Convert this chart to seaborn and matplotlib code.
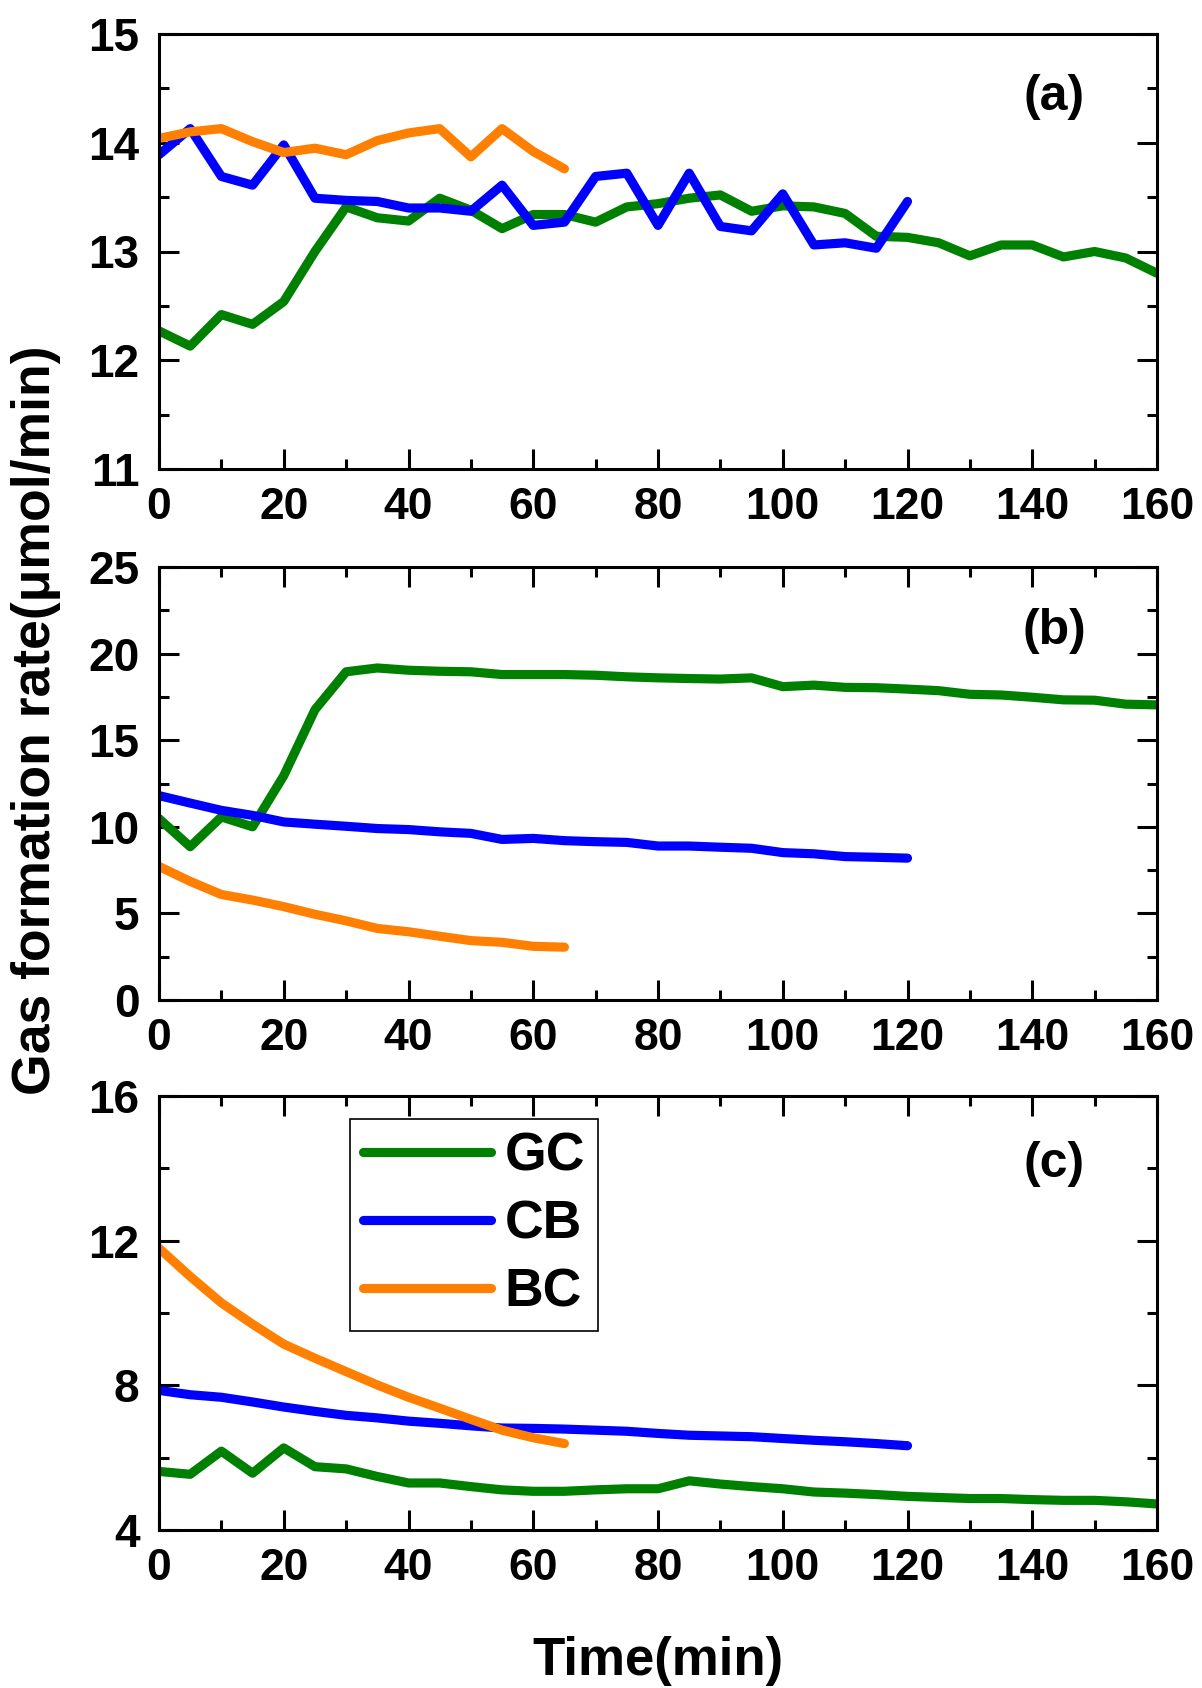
import numpy as np
import pandas as pd
import matplotlib
matplotlib.use("Agg")
import matplotlib.pyplot as plt
from matplotlib.ticker import MultipleLocator
import seaborn as sns

# ---------------- data ----------------
t_gc = list(range(0, 165, 5))
t_cb = list(range(0, 125, 5))
t_bc = list(range(0, 70, 5))

gc_a = [12.27, 12.13, 12.42, 12.33, 12.54, 13.0, 13.41, 13.31, 13.28, 13.49,
        13.38, 13.21, 13.34, 13.34, 13.27, 13.41, 13.44, 13.49, 13.52, 13.37,
        13.42, 13.41, 13.35, 13.14, 13.13, 13.08, 12.96, 13.06, 13.06, 12.95,
        13.0, 12.94, 12.80]
cb_a = [13.89, 14.13, 13.69, 13.61, 13.98, 13.49, 13.47, 13.46, 13.40, 13.40,
        13.37, 13.61, 13.24, 13.27, 13.69, 13.72, 13.24, 13.72, 13.23, 13.19,
        13.53, 13.06, 13.08, 13.03, 13.46]
bc_a = [14.04, 14.10, 14.13, 14.01, 13.91, 13.95, 13.89, 14.02, 14.09, 14.13,
        13.87, 14.13, 13.92, 13.76]

gc_b = [10.47, 8.85, 10.57, 10.0, 12.95, 16.76, 18.95, 19.17, 19.04, 18.98,
        18.95, 18.79, 18.79, 18.79, 18.75, 18.66, 18.60, 18.56, 18.53, 18.60,
        18.09, 18.18, 18.05, 18.03, 17.95, 17.86, 17.65, 17.61, 17.48, 17.33,
        17.31, 17.08, 17.04]
cb_b = [11.80, 11.37, 10.95, 10.66, 10.28, 10.15, 10.03, 9.90, 9.84, 9.71,
        9.62, 9.27, 9.33, 9.20, 9.14, 9.10, 8.89, 8.89, 8.82, 8.76,
        8.51, 8.44, 8.28, 8.24, 8.19]
bc_b = [7.71, 6.85, 6.09, 5.77, 5.39, 4.95, 4.57, 4.13, 3.94, 3.68,
        3.43, 3.33, 3.10, 3.05]

gc_c = [5.62, 5.54, 6.18, 5.57, 6.27, 5.75, 5.69, 5.48, 5.30, 5.30,
        5.20, 5.11, 5.07, 5.07, 5.11, 5.14, 5.14, 5.36, 5.27, 5.20,
        5.14, 5.05, 5.02, 4.98, 4.93, 4.90, 4.87, 4.87, 4.84, 4.82,
        4.82, 4.78, 4.72]
cb_c = [7.86, 7.74, 7.67, 7.54, 7.40, 7.28, 7.17, 7.10, 7.01, 6.95,
        6.88, 6.82, 6.81, 6.79, 6.76, 6.73, 6.67, 6.62, 6.60, 6.58,
        6.53, 6.48, 6.44, 6.39, 6.33]
bc_c = [11.79, 11.01, 10.28, 9.69, 9.14, 8.75, 8.38, 8.01, 7.67, 7.37,
        7.06, 6.76, 6.55, 6.39]

series_names = ["GC", "CB", "BC"]
colors = {"GC": "#008000", "CB": "#0000FF", "BC": "#FF8000"}
panel_labels = ["(a)", "(b)", "(c)"]
ylims = [(11, 15), (0, 25), (4, 16)]
ymajor = [1, 5, 4]
yminor = [0.5, 2.5, 2]
panels = [
    {"GC": gc_a, "CB": cb_a, "BC": bc_a},
    {"GC": gc_b, "CB": cb_b, "BC": bc_b},
    {"GC": gc_c, "CB": cb_c, "BC": bc_c},
]
times = {"GC": t_gc, "CB": t_cb, "BC": t_bc}

# ---------------- style ----------------
sns.set_theme(style="white")
plt.rcParams["font.family"] = ["Liberation Sans", "DejaVu Sans"]
plt.rcParams["font.weight"] = "bold"
for key in ["text.color", "axes.labelcolor", "xtick.color", "ytick.color",
            "axes.edgecolor"]:
    plt.rcParams[key] = "black"

LW = 6.6

fig = plt.figure(figsize=(12.02, 16.88), dpi=100)
left, right = 159 / 1202, 1157 / 1202
tops = [34, 567, 1096]
bottoms = [469, 1000, 1530]
H = 1688.0

axes = []
for i in range(3):
    b = 1 - bottoms[i] / H
    h = (bottoms[i] - tops[i]) / H
    ax = fig.add_axes([left, b, right - left, h])
    axes.append(ax)

label_y = [0.855, 0.852, 0.843]
for i, ax in enumerate(axes):
    for name in series_names:
        df = pd.DataFrame({"t": times[name], "v": panels[i][name]})
        sns.lineplot(data=df, x="t", y="v", ax=ax, color=colors[name],
                     linewidth=LW, label=name, solid_capstyle="round",
                     solid_joinstyle="round", legend=False)
    ax.set_xlim(0, 160)
    ax.set_ylim(*ylims[i])
    ax.xaxis.set_major_locator(MultipleLocator(20))
    ax.xaxis.set_minor_locator(MultipleLocator(10))
    ax.yaxis.set_major_locator(MultipleLocator(ymajor[i]))
    ax.yaxis.set_minor_locator(MultipleLocator(yminor[i]))
    top_ticks = i > 0
    ax.tick_params(which="both", direction="in", width=2.2, color="black",
                   labelcolor="black",
                   top=top_ticks, right=True, bottom=True, left=True)
    ax.tick_params(which="major", length=14.5)
    ax.tick_params(which="minor", length=7.2)
    ax.tick_params(axis="x", which="major", labelsize=32, pad=13)
    ax.tick_params(axis="y", which="major", labelsize=33, pad=14)
    for lab in ax.get_xticklabels() + ax.get_yticklabels():
        lab.set_fontweight("bold")
    for sp in ax.spines.values():
        sp.set_linewidth(2.2)
        sp.set_color("black")
    ax.set_xlabel("")
    ax.set_ylabel("")
    ax.set_facecolor("white")
    ax.text(0.897, label_y[i], panel_labels[i], transform=ax.transAxes,
            ha="center", va="center", fontsize=36, fontweight="bold",
            color="black")

# legend in panel (c)
handles = [plt.Line2D([], [], color=colors[n], linewidth=LW,
                      solid_capstyle="round") for n in series_names]
leg = axes[2].legend(handles, series_names, loc="upper left",
                     bbox_to_anchor=(0.191, 0.948), borderaxespad=0,
                     frameon=True, fancybox=False, shadow=False,
                     prop={"size": 38.5, "weight": "bold"},
                     handlelength=2.4, handletextpad=0.25,
                     labelspacing=0.33, borderpad=0.25)
leg.get_frame().set_edgecolor("black")
leg.get_frame().set_linewidth(1.2)
leg.get_frame().set_alpha(1)
for txt in leg.get_texts():
    txt.set_color("black")

fig.text(0.030, 1 - 720 / H, "Gas formation rate(\u03bcmol/min)", rotation=90,
         ha="center", va="center", fontsize=38.5, fontweight="bold",
         color="black")
fig.text(658 / 1202, 1 - 1675 / H, "Time(min)", ha="center", va="baseline",
         fontsize=38, fontweight="bold", color="black")

fig.savefig("out.png", dpi=100, facecolor="white")
